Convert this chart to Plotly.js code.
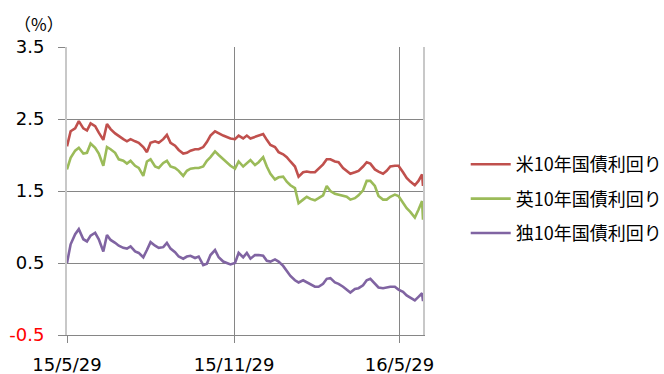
<!DOCTYPE html>
<html>
<head>
<meta charset="utf-8">
<script src="https://cdn.plot.ly/plotly-3.0.1.min.js"></script>
<style>
  html, body { margin: 0; padding: 0; background: #ffffff; }
  #chart { width: 664px; height: 374px; }
</style>
</head>
<body>
<div id="chart"></div>
<script>
// Observation dates
const dates = ["2015-05-29","2015-06-02","2015-06-07","2015-06-11","2015-06-16","2015-06-20","2015-06-24","2015-06-29","2015-07-03","2015-07-08",
  "2015-07-12","2015-07-16","2015-07-21","2015-07-25","2015-07-30","2015-08-03","2015-08-07","2015-08-12","2015-08-16","2015-08-21",
  "2015-08-25","2015-08-29","2015-09-03","2015-09-07","2015-09-12","2015-09-16","2015-09-20","2015-09-25","2015-09-29","2015-10-04",
  "2015-10-08","2015-10-12","2015-10-17","2015-10-21","2015-10-26","2015-10-30","2015-11-03","2015-11-08","2015-11-12","2015-11-17",
  "2015-11-21","2015-11-25","2015-11-30","2015-12-04","2015-12-09","2015-12-13","2015-12-17","2015-12-22","2015-12-26","2015-12-31",
  "2016-01-04","2016-01-08","2016-01-13","2016-01-17","2016-01-22","2016-01-26","2016-01-30","2016-02-04","2016-02-08","2016-02-13",
  "2016-02-17","2016-02-21","2016-02-26","2016-03-01","2016-03-06","2016-03-10","2016-03-14","2016-03-19","2016-03-23","2016-03-28",
  "2016-04-01","2016-04-05","2016-04-10","2016-04-14","2016-04-19","2016-04-23","2016-04-27","2016-05-02","2016-05-06","2016-05-11",
  "2016-05-15","2016-05-19","2016-05-24","2016-05-28","2016-06-02","2016-06-06","2016-06-10","2016-06-15","2016-06-19","2016-06-23",
  "2016-06-24"];

// 10-year government bond yields (%)
const usYield = [2.12,2.33,2.37,2.47,2.37,2.34,2.44,2.40,2.31,2.21,
  2.43,2.36,2.30,2.26,2.22,2.19,2.22,2.19,2.17,2.11,
  2.04,2.17,2.19,2.17,2.22,2.28,2.17,2.13,2.07,2.02,
  2.03,2.06,2.08,2.08,2.11,2.18,2.27,2.33,2.30,2.27,
  2.25,2.23,2.22,2.27,2.23,2.27,2.23,2.25,2.27,2.29,
  2.21,2.14,2.11,2.04,2.01,1.97,1.91,1.84,1.70,1.76,
  1.77,1.76,1.76,1.81,1.87,1.94,1.94,1.91,1.90,1.82,
  1.78,1.74,1.76,1.78,1.84,1.90,1.88,1.80,1.77,1.74,
  1.78,1.84,1.85,1.85,1.76,1.68,1.63,1.58,1.64,1.73,
  1.57];

const ukYield = [1.80,1.96,2.06,2.10,2.02,2.03,2.16,2.10,2.02,1.85,
  2.11,2.08,2.03,1.94,1.92,1.88,1.92,1.85,1.82,1.71,
  1.91,1.94,1.84,1.82,1.89,1.92,1.84,1.82,1.78,1.71,
  1.78,1.81,1.82,1.82,1.84,1.92,1.97,2.05,2.00,1.94,
  1.90,1.85,1.81,1.91,1.84,1.89,1.93,1.86,1.90,1.97,
  1.84,1.74,1.66,1.69,1.70,1.63,1.58,1.54,1.33,1.38,
  1.42,1.39,1.37,1.40,1.44,1.57,1.50,1.46,1.45,1.43,
  1.42,1.38,1.40,1.44,1.51,1.64,1.64,1.57,1.43,1.38,
  1.38,1.42,1.45,1.43,1.33,1.26,1.21,1.13,1.24,1.36,
  1.10];

const deYield = [0.50,0.76,0.90,0.97,0.83,0.80,0.88,0.92,0.83,0.66,
  0.89,0.82,0.78,0.74,0.71,0.70,0.73,0.66,0.64,0.58,
  0.68,0.79,0.74,0.71,0.72,0.78,0.70,0.65,0.59,0.56,
  0.59,0.60,0.57,0.59,0.47,0.49,0.61,0.68,0.58,0.52,
  0.50,0.48,0.50,0.64,0.58,0.64,0.56,0.61,0.61,0.60,
  0.53,0.52,0.55,0.52,0.46,0.39,0.32,0.26,0.23,0.26,
  0.23,0.20,0.17,0.17,0.21,0.28,0.29,0.23,0.21,0.17,
  0.13,0.09,0.14,0.15,0.19,0.26,0.28,0.21,0.16,0.15,
  0.16,0.17,0.17,0.13,0.10,0.05,0.02,-0.02,0.03,0.08,
  -0.03];

const seriesNames = ["米10年国債利回り", "英10年国債利回り", "独10年国債利回り"];
const seriesColors = ["#C0504D", "#9BBB59", "#8064A2"];

// Axis ticks
const xTickVals = ["2015-05-29", "2015-11-29", "2016-05-29"];
const xTickText = ["15/5/29", "15/11/29", "16/5/29"];
const yTickVals = [-0.5, 0.5, 1.5, 2.5, 3.5];
const yTickText = ['<span style="color:#FF0000">-0.5</span>', "0.5", "1.5", "2.5", "3.5"];

const gridColor = "#868686";
const tickFont = { family: "DejaVu Sans, sans-serif", size: 18, color: "#000000" };

const traces = [usYield, ukYield, deYield].map((vals, i) => ({
  type: "scatter",
  mode: "lines",
  x: dates,
  y: vals,
  name: seriesNames[i],
  legendgroup: "g" + i,
  line: { color: seriesColors[i], width: 2.6 },
  hoverinfo: "skip"
}));

const layout = {
  width: 664,
  height: 374,
  paper_bgcolor: "#ffffff",
  plot_bgcolor: "#ffffff",
  margin: { l: 67, r: 241, t: 47, b: 39, pad: 0, autoexpand: false },
  showlegend: true,
  legend: {
    x: 1.12, xanchor: "left",
    y: 0.656, yanchor: "top",
    font: { family: "Noto Sans CJK JP, sans-serif", size: 18, color: "#000000" },
    tracegroupgap: 8,
    itemwidth: 40,
    bgcolor: "rgba(0,0,0,0)"
  },
  xaxis: {
    type: "date",
    range: ["2015-05-29", "2016-06-24"],
    tickmode: "array",
    tickvals: xTickVals,
    ticktext: xTickText,
    tickfont: tickFont,
    showgrid: true,
    gridcolor: gridColor,
    gridwidth: 1,
    ticks: "outside",
    ticklen: 7,
    tickcolor: gridColor,
    ticklabelstandoff: 6,
    showline: true,
    linecolor: gridColor,
    linewidth: 1,
    zeroline: false,
    fixedrange: true
  },
  yaxis: {
    range: [-0.5, 3.5],
    tickmode: "array",
    tickvals: yTickVals,
    ticktext: yTickText,
    tickfont: tickFont,
    showgrid: true,
    gridcolor: gridColor,
    gridwidth: 1,
    ticks: "outside",
    ticklen: 7,
    tickcolor: gridColor,
    ticklabelstandoff: 10,
    showline: true,
    mirror: true,
    linecolor: "#C8C8C8",
    linewidth: 2,
    zeroline: false,
    fixedrange: true
  },
  annotations: [{
    text: "（%）",
    xref: "paper", yref: "paper",
    x: -0.155, xanchor: "left",
    y: 1.083, yanchor: "middle",
    showarrow: false,
    font: { family: "Noto Sans CJK JP, sans-serif", size: 17, color: "#000000" }
  }]
};

Plotly.newPlot("chart", traces, layout, { displayModeBar: false, staticPlot: true });
</script>
</body>
</html>
